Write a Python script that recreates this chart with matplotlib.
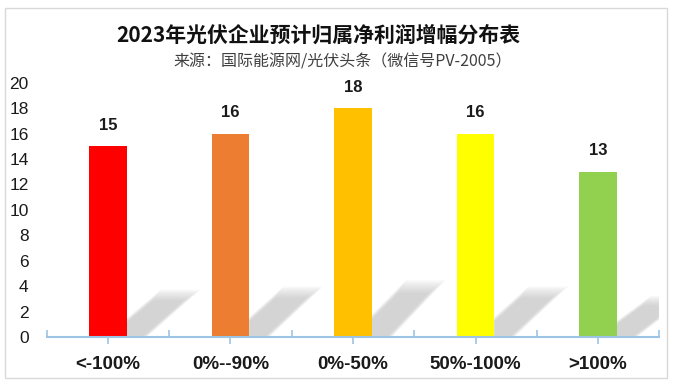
import matplotlib.pyplot as plt
from matplotlib.patches import Polygon, Rectangle
import numpy as np

plt.rcParams['font.family'] = ['Noto Sans CJK SC', 'DejaVu Sans']

categories = ['<-100%', '0%--90%', '0%-50%', '50%-100%', '>100%']
counts = [15, 16, 18, 16, 13]
colors = ['#ff0000', '#ed7d31', '#ffc000', '#ffff00', '#92d050']
title = '2023年光伏企业预计归属净利润增幅分布表'
subtitle = '来源：国际能源网/光伏头条（微信号PV-2005）'

AXIS_C = '#9dc3e6'
BAR_W = 0.305

fig = plt.figure(figsize=(6.74, 3.86), dpi=100)
fig.patch.set_facecolor('white')

# outer chart border
fig.patches.append(Rectangle((5 / 674, 8 / 386), 662 / 674, 370 / 386,
                             transform=fig.transFigure, fill=False,
                             edgecolor='#d9d9d9', linewidth=1.0))

ax = fig.add_axes([46.7 / 674, 49 / 386, 612.6 / 674, 254.3 / 386])
x = np.arange(len(categories))

# soft (blurred) shadows cast to the right of each bar
n_layers = 8
for i, h in enumerate(counts):
    re = x[i] + BAR_W / 2
    for k in range(n_layers):
        s = 1.08 - k * 0.035
        pts = [(re, 0), (re, 0.09 * h * s), (re + 0.85 * BAR_W * s, 0.23 * h * s),
               (re + 1.83 * BAR_W * s, 0.23 * h * s), (re + 0.5 * BAR_W * s, 0)]
        ax.add_patch(Polygon(pts, closed=True, facecolor='#b4b4b4',
                             edgecolor='none', alpha=0.09, zorder=1))

ax.bar(x, counts, width=BAR_W, color=colors, zorder=2)

for xi, v in zip(x, counts):
    ax.text(xi, v + 1.05, str(v), ha='center', va='bottom', fontsize=12,
            fontweight='bold', color='#1a1a1a', family=['Liberation Sans', 'DejaVu Sans'])

ax.set_xlim(-0.5, len(categories) - 0.5)
ax.set_ylim(0, 20)
ax.set_yticks(np.arange(0, 21, 2))
ax.set_xticks(x)
ax.set_xticklabels(categories, fontsize=13.5, fontweight='bold',
                   family=['Liberation Sans', 'DejaVu Sans'])
ax.set_xticks(np.arange(-0.5, len(categories)), minor=True)
for lbl in ax.get_yticklabels():
    lbl.set_fontfamily(['Liberation Sans', 'DejaVu Sans'])
    lbl.set_fontsize(12.5)

for s in ['top', 'right', 'left']:
    ax.spines[s].set_visible(False)
ax.spines['bottom'].set_color(AXIS_C)
ax.spines['bottom'].set_linewidth(1.5)
ax.tick_params(axis='y', length=0, pad=13, colors='#1a1a1a')
ax.tick_params(axis='x', which='major', direction='out', length=5, width=1.2,
               color=AXIS_C, pad=9, labelcolor='#1a1a1a')
ax.tick_params(axis='x', which='minor', direction='in', length=5, width=1.2,
               color=AXIS_C)

fig.text(318 / 674, 1 - 35 / 386, title, ha='center', va='center',
         fontsize=15, fontweight='bold', color='#111111')
fig.text(343 / 674, 1 - 62 / 386, subtitle, ha='center', va='center',
         fontsize=11.5, color='#404040')

fig.savefig('out.png', dpi=100, facecolor='white')
